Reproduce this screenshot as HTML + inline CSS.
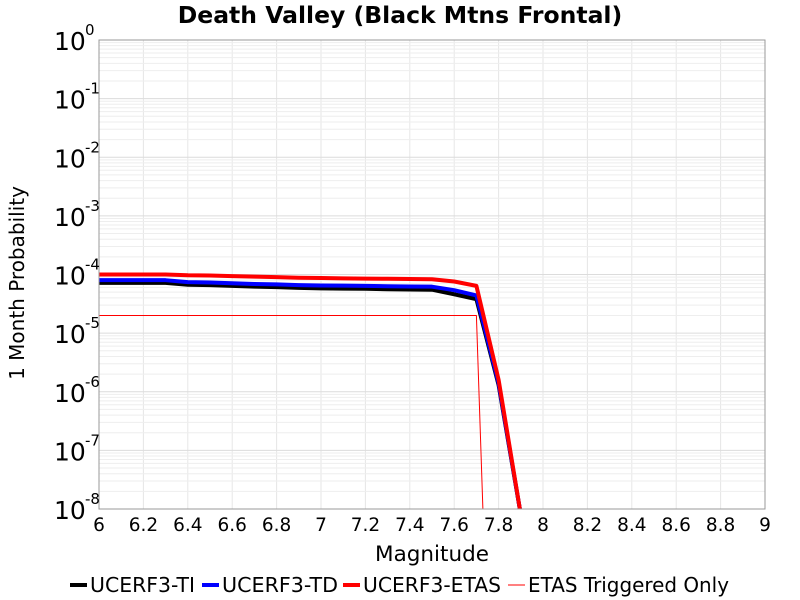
<!DOCTYPE html>
<html><head><meta charset="utf-8"><style>
html,body{margin:0;padding:0;background:#fff;overflow:hidden;width:800px;height:600px}
svg{display:block}
svg text{font-family:"DejaVu Sans","Liberation Sans",sans-serif}
</style></head><body>
<svg id="chart" width="800" height="600" xmlns="http://www.w3.org/2000/svg">
<rect width="800" height="600" fill="#fff"/>
<text x="400" y="23" text-anchor="middle" font-size="23.5" font-weight="bold">Death Valley (Black Mtns Frontal)</text>
<g id="grid"></g>
<g id="series"></g>
<rect x="99" y="40" width="666" height="469" fill="none" stroke="#999" stroke-width="1"/>
<g id="xticks"></g>
<g id="yticks"></g>
<text x="432" y="561" text-anchor="middle" font-size="21.5">Magnitude</text>
<text transform="translate(24,283) rotate(-90)" text-anchor="middle" font-size="20">1 Month Probability</text>
<g id="legend"></g>
</svg>
<script>
const mags = [6.0,6.1,6.2,6.3,6.4,6.5,6.6,6.7,6.8,6.9,7.0,7.1,7.2,7.3,7.4,7.5,7.6,7.7,7.8,7.9];
const ucerfTI = [7.2e-5,7.2e-5,7.2e-5,7.2e-5,6.7e-5,6.6e-5,6.4e-5,6.2e-5,6.1e-5,5.9e-5,5.8e-5,5.75e-5,5.7e-5,5.6e-5,5.55e-5,5.5e-5,4.6e-5,3.8e-5,1.3e-6,8e-9];
const ucerfTD = [8.0e-5,8.0e-5,8.0e-5,8.0e-5,7.4e-5,7.3e-5,7.1e-5,6.9e-5,6.8e-5,6.6e-5,6.5e-5,6.45e-5,6.4e-5,6.3e-5,6.25e-5,6.2e-5,5.4e-5,4.4e-5,1.4e-6,8e-9];
const ucerfETAS = [1.0e-4,1.0e-4,1.0e-4,1.0e-4,9.7e-5,9.6e-5,9.4e-5,9.2e-5,9.0e-5,8.8e-5,8.7e-5,8.6e-5,8.5e-5,8.45e-5,8.4e-5,8.3e-5,7.6e-5,6.4e-5,1.6e-6,8e-9];
const etasTriggered = [2e-5,2e-5,2e-5,2e-5,2e-5,2e-5,2e-5,2e-5,2e-5,2e-5,2e-5,2e-5,2e-5,2e-5,2e-5,2e-5,2e-5,2e-5,1e-16,1e-17];
const xTicks = ["6","6.2","6.4","6.6","6.8","7","7.2","7.4","7.6","7.8","8","8.2","8.4","8.6","8.8","9"];
const yExps = [0,-1,-2,-3,-4,-5,-6,-7,-8];
const legendLabels = ["UCERF3-TI","UCERF3-TD","UCERF3-ETAS","ETAS Triggered Only"];

const NS="http://www.w3.org/2000/svg";
const X0=99,X1=765,Y0=40,Y1=509;
const xs=m=>X0+(m-6)/3*(X1-X0);
const ys=v=>Y0+(-Math.log10(v))/8*(Y1-Y0);
function mk(t,p,a){const e=document.createElementNS(NS,t);for(const k in a)e.setAttribute(k,a[k]);p.appendChild(e);return e;}
const grid=document.getElementById('grid');
for(let i=0;i<=15;i++){const x=xs(6+i*0.2);
 const l=mk('line',grid,{x1:x,x2:x,y1:Y0,y2:Y1,stroke:'#e6e6e6'});
 
 }
for(let d=-8;d<0;d++){for(let k=1;k<=9;k++){const y=ys(k*Math.pow(10,d));
 const l=mk('line',grid,{x1:X0,x2:X1,y1:y,y2:y,stroke:k==1?'#dcdcdc':'#eeeeee'});
 
 }}
const clip=mk('clipPath',document.getElementById('chart'),{id:'pc'});
mk('rect',clip,{x:X0,y:Y0,width:X1-X0,height:Y1-Y0});
const ser=document.getElementById('series');ser.setAttribute('clip-path','url(#pc)');
const defs=[[ucerfTI,'#000',4,'ucerf3-ti-line'],[ucerfTD,'#0000ff',4,'ucerf3-td-line'],[ucerfETAS,'#ff0000',4,'ucerf3-etas-line'],[etasTriggered,'#ff0000',1,'etas-triggered-line']];
[0,1,2,3].forEach(i=>{const [d,c,w,n]=defs[i];
 const p=mk('polyline',ser,{points:mags.map((m,j)=>xs(m)+','+ys(d[j])).join(' '),fill:'none',stroke:c,'stroke-width':w,'stroke-linejoin':'round'});
 
 });
const xt=document.getElementById('xticks');
xTicks.forEach(t=>{const e=mk('text',xt,{x:xs(parseFloat(t)),y:531,'text-anchor':'middle','font-size':18.5});e.textContent=t;
 
 });
const yt=document.getElementById('yticks');
yExps.forEach(ex=>{const y=ys(Math.pow(10,ex));
 const e=mk('text',yt,{x:54,y:y+10,'font-size':25});e.textContent='10';
 
 
 const s=mk('text',yt,{x:85,y:y-5,'font-size':15});s.textContent=String(ex);
 
 });
const lg=document.getElementById('legend');
const lx=[90,222,363,528];
const lw=[105,116,138,201];
legendLabels.forEach((t,i)=>{const [d,c,w]=defs[i];
 const l=mk('line',lg,{x1:lx[i]-20,x2:lx[i]-3,y1:585,y2:585,stroke:c,'stroke-width':w});
 
 
 const e=mk('text',lg,{x:lx[i],y:592,'font-size':20.5,textLength:lw[i],lengthAdjust:'spacingAndGlyphs'});e.textContent=t;
 
 });
</script>
</body></html>
